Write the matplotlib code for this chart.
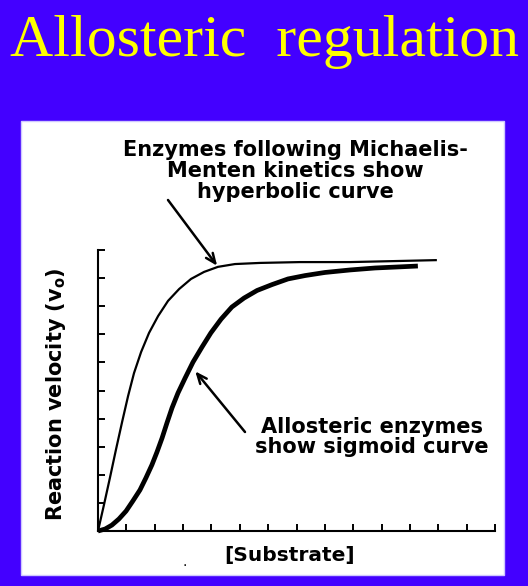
import matplotlib
matplotlib.use("Agg")
import matplotlib.pyplot as plt
from matplotlib.patches import Rectangle

# curves (substrate units 0-14, velocity units 0-10)
mm_substrate = [0, 0.21, 0.42, 0.63, 0.85, 1.06, 1.27, 1.52, 1.80, 2.12, 2.47,
                2.86, 3.28, 3.74, 4.23, 4.83, 5.71, 7.12, 8.89, 10.65, 11.95]
mm_velocity = [0, 0.93, 1.89, 2.88, 3.88, 4.80, 5.62, 6.37, 7.05, 7.65, 8.19,
               8.61, 8.97, 9.22, 9.40, 9.50, 9.54, 9.57, 9.57, 9.61, 9.64]

allo_substrate = [0, 0.25, 0.49, 0.74, 0.99, 1.23, 1.48, 1.69, 1.90, 2.08,
                  2.26, 2.43, 2.61, 2.82, 3.07, 3.35, 3.67, 3.98, 4.34, 4.72,
                  5.15, 5.61, 6.14, 6.70, 7.30, 8.00, 8.89, 9.77, 10.65, 11.28]
allo_velocity = [0, 0.07, 0.21, 0.43, 0.71, 1.07, 1.46, 1.89, 2.35, 2.81,
                 3.31, 3.84, 4.38, 4.91, 5.44, 6.01, 6.55, 7.05, 7.54, 7.97,
                 8.29, 8.56, 8.77, 8.97, 9.09, 9.20, 9.29, 9.36, 9.40, 9.43]

x_ticks = list(range(0, 15))
y_ticks = list(range(0, 11))

title = "Allosteric  regulation"
mm_note = "Enzymes following Michaelis-\nMenten kinetics show\nhyperbolic curve"
allo_note = "Allosteric enzymes\nshow sigmoid curve"
x_label = "[Substrate]"
y_label = r"Reaction velocity (v$_\mathregular{o}$)"

W, H = 528, 586
BLUE = "#4300ff"

plt.rcParams["mathtext.fontset"] = "custom"
plt.rcParams["mathtext.rm"] = "DejaVu Sans:bold"


def fx(x):
    return x / W


def fy(y):
    # y measured from the top of the picture
    return 1 - y / H


fig = plt.figure(figsize=(W / 100, H / 100), dpi=100)
fig.patch.set_facecolor(BLUE)

# white card holding the graph
fig.patches.append(Rectangle((fx(21), fy(575)), fx(483), 454 / H,
                             transform=fig.transFigure, facecolor="white",
                             edgecolor="#cfc8ff", lw=1, zorder=-1))

fig.text(fx(265), fy(56), title, ha="center", va="baseline",
         family="Liberation Serif", fontsize=43, color="#ffff00")

ax = fig.add_axes([fx(98), fy(531), fx(495 - 98), (531 - 250) / H])
ax.set_zorder(1)
ax.set_facecolor("none")
ax.plot(mm_substrate, mm_velocity, color="black", lw=1.6,
        solid_capstyle="butt", solid_joinstyle="round", clip_on=False)
ax.plot(allo_substrate, allo_velocity, color="black", lw=3.4,
        solid_capstyle="butt", solid_joinstyle="round", clip_on=False)

ax.set_xlim(0, 14)
ax.set_ylim(0, 10)
ax.set_xticks(x_ticks)
ax.set_yticks(y_ticks)
ax.tick_params(direction="in", length=5, width=1.4, labelbottom=False,
               labelleft=False)
for s in ["top", "right"]:
    ax.spines[s].set_visible(False)
for s in ["left", "bottom"]:
    ax.spines[s].set_linewidth(1.5)

bold = dict(family="DejaVu Sans", fontweight="bold", color="black")

fig.text(fx(295), fy(171), mm_note, ha="center", va="center",
         fontsize=15, linespacing=1.05, **bold)
fig.text(fx(372), fy(437), allo_note, ha="center", va="center",
         fontsize=15, linespacing=1.05, **bold)
fig.text(fx(290), fy(555), x_label, ha="center", va="center",
         fontsize=14.5, **bold)
fig.text(fx(56), fy(394), y_label, ha="center", va="center",
         rotation=90, fontsize=15, **bold)
fig.text(fx(185), fy(562), ".", ha="center", va="center", fontsize=10,
         color="black")

arrow = dict(arrowstyle="->,head_length=0.7,head_width=0.3", color="black",
             lw=1.8, shrinkA=0, shrinkB=1)
ax.annotate("", xy=(mm_substrate[14], mm_velocity[14]),
            xytext=(168, H - 200), textcoords="figure pixels",
            arrowprops=arrow, annotation_clip=False)
ax.annotate("", xy=(3.40, 5.72), xytext=(245, H - 432),
            textcoords="figure pixels", arrowprops=arrow,
            annotation_clip=False)

fig.savefig("out.png", dpi=100, facecolor=fig.get_facecolor())
